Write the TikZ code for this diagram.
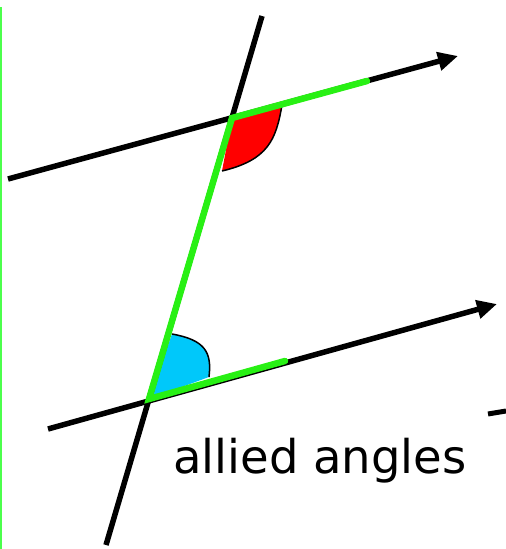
\documentclass[tikz,border=0pt]{standalone}
\usepackage{fontspec}
\setmainfont{DejaVu Sans}
\usetikzlibrary{positioning,arrows.meta}

\definecolor{brightgreen}{RGB}{40,240,20}
\definecolor{skyblue}{RGB}{0,200,250}

\tikzset{
  parline/.style={line width=5.5pt,-{Triangle[length=20pt,width=18pt]}},
  transline/.style={line width=5.5pt},
  greenline/.style={line width=6.5pt,brightgreen,line cap=round},
  anglefill/.style={draw=black,line width=1.5pt}
}

\begin{document}
\begin{tikzpicture}[x=1pt,y=-1pt]
\useasboundingbox (0,0) rectangle (506,549);
% points (pixel grid of the reference, y downwards)
\coordinate (A) at (232,118);   % upper intersection
\coordinate (B) at (149,399);   % lower intersection
\coordinate (U0) at (8,179);
\coordinate (U1) at (458,56);
\coordinate (L0) at (48,429);
\coordinate (L1) at (497,304);
\coordinate (T0) at (262,16);
\coordinate (T1) at (106,545);
% left margin line
\draw[line width=2pt,green!70] (1,7) -- (1,549);
% angles
\fill[red] (A) -- (282,105) .. controls (276,140) and (268,160) .. (222,171) -- cycle;
\draw[anglefill] (282,105) .. controls (276,140) and (268,160) .. (222,171);
\fill[skyblue] (B) -- (172,334) .. controls (205,340) and (212,352) .. (209,377) -- cycle;
\draw[anglefill] (172,334) .. controls (205,340) and (212,352) .. (209,377);
% parallel lines and transversal
\draw[parline] (U0) -- (U1);
\draw[parline] (L0) -- (L1);
\draw[transline] (T0) -- (T1);
% allied angles in green
\draw[greenline] (367,81) -- (A) -- (B) -- (285,361);
% stray dash
\draw[line width=5pt] (488,414) -- (506,411);
\node[font=\fontsize{46.5}{52}\selectfont] (label) at (320,461) {allied angles};
\end{tikzpicture}
\end{document}
